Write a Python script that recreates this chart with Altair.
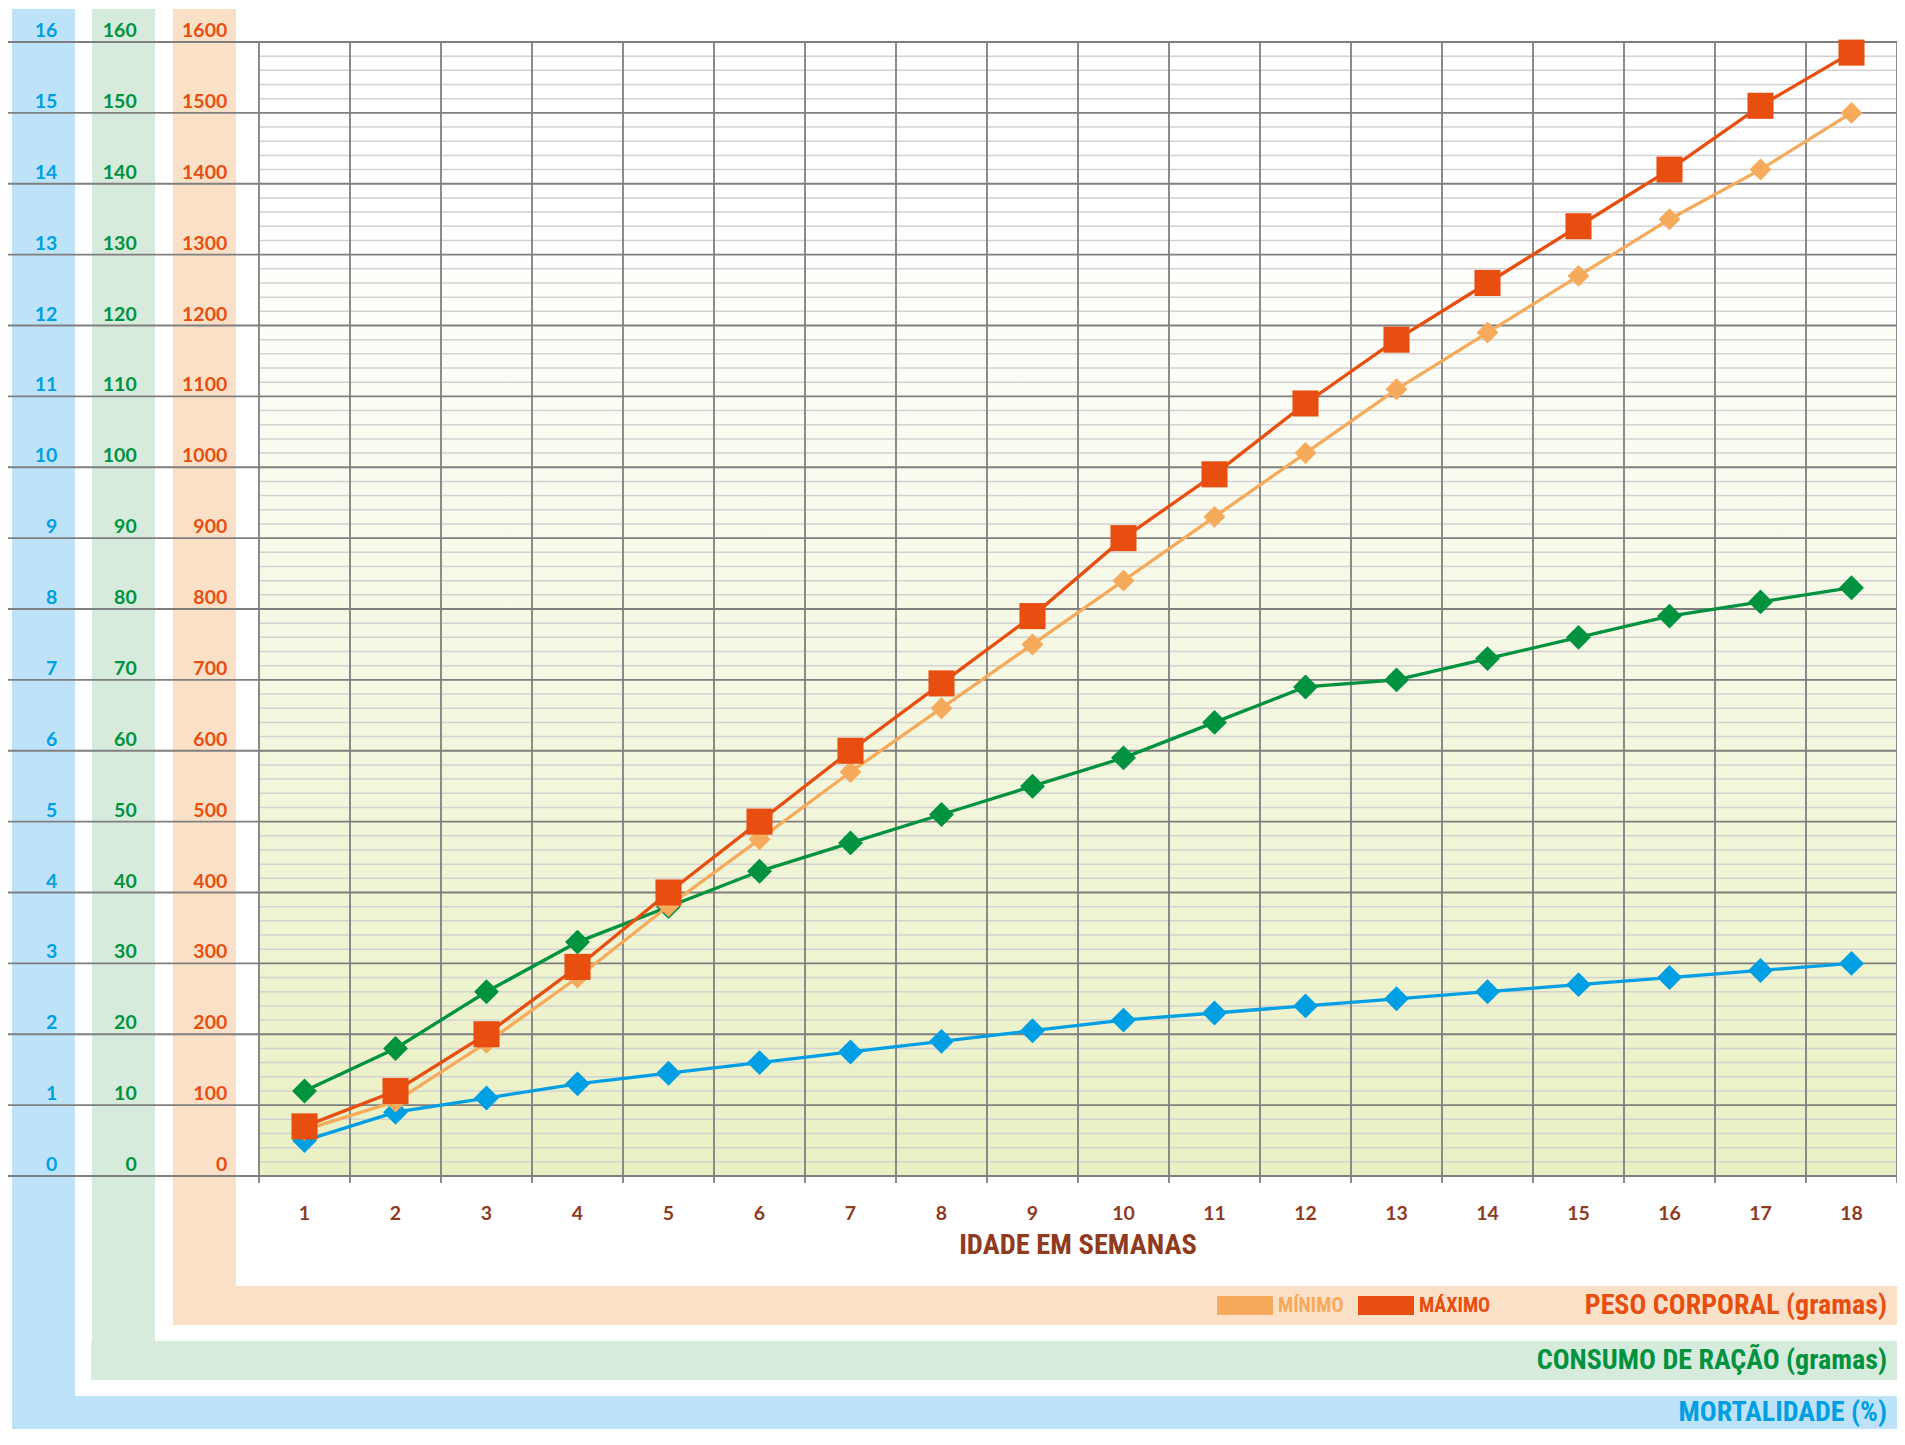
import altair as alt
import pandas as pd

# ---------------- data ----------------
weeks = list(range(1, 19))
mortalidade = [0.5, 0.9, 1.1, 1.3, 1.45, 1.6, 1.75, 1.9, 2.05, 2.2, 2.3, 2.4, 2.5, 2.6, 2.7, 2.8, 2.9, 3.0]
racao = [12, 18, 26, 33, 38, 43, 47, 51, 55, 59, 64, 69, 70, 73, 76, 79, 81, 83]
peso_min = [65, 105, 188, 280, 381, 475, 570, 660, 750, 840, 930, 1020, 1110, 1190, 1270, 1350, 1420, 1500]
peso_max = [70, 120, 200, 295, 400, 500, 600, 695, 790, 900, 990, 1090, 1180, 1260, 1340, 1420, 1510, 1585]

ticks_mort = list(range(0, 17))
ticks_racao = list(range(0, 161, 10))
ticks_peso = list(range(0, 1601, 100))
minor_peso = [v for v in range(0, 1601, 20) if v % 100 != 0]
x_bounds = [w - 0.5 for w in weeks] + [weeks[-1] + 0.5]

# ---------------- layout / style ----------------
PAD_L, PAD_T, PAD_R, PAD_B = 251, 34, 0, 253
W = 1638
H = 1134
OX, OY = 8 + PAD_L, 8 + PAD_T  # page position of the plot origin


def px(x):
    return x - OX


def py(y):
    return y - OY


BLUE = "#009FE3"
GREEN = "#00923F"
ORANGE = "#E84E0F"
LORANGE = "#F6AA5B"
BROWN = "#8E3B1E"
BAND_BLUE = "#BEE3F8"
BAND_GREEN = "#D7EBDC"
BAND_ORANGE = "#FBE0C8"
NUMF = "Lato"
CONDF = "'Roboto Condensed', 'Open Sans Condensed', 'DejaVu Sans Condensed', sans-serif"

xs = alt.Scale(domain=[0.5, 18.5], nice=False, zero=False)
ys = alt.Scale(domain=[0, 1600], nice=False, zero=True)

one = pd.DataFrame({"k": [0]})
RIGHT = 1897  # page x of right edge


def box(x, x2, y, y2, color):
    return alt.Chart(one).mark_rect(color=color).encode(
        x=alt.value(px(x)), x2=alt.value(px(x2)), y=alt.value(py(y)), y2=alt.value(py(y2)))


def label(txt, x, y, color, size, align="right", baseline="middle", font=CONDF):
    return alt.Chart(one).mark_text(
        text=txt, align=align, baseline=baseline, font=font, fontWeight="bold",
        fontSize=size, color=color).encode(x=alt.value(px(x)), y=alt.value(py(y)))


bg = alt.Chart(one).mark_rect(
    fill=alt.LinearGradient(
        gradient="linear",
        stops=[alt.GradientStop(offset=0, color="#ffffff"),
               alt.GradientStop(offset=0.15, color="#ffffff"),
               alt.GradientStop(offset=1, color="#EAF0C3")],
        x1=0, x2=0, y1=0, y2=1)
).encode(x=alt.value(0), x2=alt.value(W), y=alt.value(0), y2=alt.value(H))

bands = [
    box(12, 75, 9, 1429, BAND_BLUE),
    box(12, RIGHT, 1396, 1429, BAND_BLUE),
    box(92, 155, 9, 1380, BAND_GREEN),
    box(91, RIGHT, 1341, 1380, BAND_GREEN),
    box(173, 236, 9, 1325, BAND_ORANGE),
    box(173, RIGHT, 1286, 1325, BAND_ORANGE),
]

minor = alt.Chart(pd.DataFrame({"v": minor_peso})).mark_rule(
    color="#D2D2D2", strokeWidth=1.5).encode(
    y=alt.Y("v:Q", scale=ys, axis=None), x=alt.value(0), x2=alt.value(W))

major = alt.Chart(pd.DataFrame({"v": ticks_peso})).mark_rule(
    color="#7F7F7F", strokeWidth=1.8).encode(
    y=alt.Y("v:Q", scale=ys, axis=None), x=alt.value(px(5)), x2=alt.value(W))

vert = alt.Chart(pd.DataFrame({"b": x_bounds})).mark_rule(
    color="#7F7F7F", strokeWidth=1.8).encode(
    x=alt.X("b:Q", scale=xs, axis=None), y=alt.value(0), y2=alt.value(H + 7))


def ylabels(ticks, factor, x, color):
    df = pd.DataFrame({"t": ticks})
    return alt.Chart(df).transform_calculate(
        v=f"datum.t*{factor}"
    ).mark_text(align="right", baseline="alphabetic", dy=-5, font=NUMF,
                fontWeight="bold", fontSize=19.5, color=color).encode(
        y=alt.Y("v:Q", scale=ys, axis=None), x=alt.value(px(x)), text="t:Q")


lab_blue = ylabels(ticks_mort, 100, 57.3, BLUE)
lab_green = ylabels(ticks_racao, 10, 136.7, GREEN)
lab_orange = ylabels(ticks_peso, 1, 227.3, ORANGE)

xlab = alt.Chart(pd.DataFrame({"w": weeks})).mark_text(
    baseline="middle", font=NUMF, fontWeight="bold", fontSize=19.5, color=BROWN
).encode(x=alt.X("w:Q", scale=xs, axis=None), y=alt.value(py(1213.5)), text="w:Q")

series_df = pd.DataFrame({"w": weeks, "mort": mortalidade, "racao": racao,
                          "pmin": peso_min, "pmax": peso_max})


def series(expr, color, shape, size, sw=3.3):
    base = alt.Chart(series_df).transform_calculate(v=expr).encode(
        x=alt.X("w:Q", scale=xs, axis=None),
        y=alt.Y("v:Q", scale=ys, axis=None))
    ln = base.mark_line(color=color, strokeWidth=sw)
    pt = base.mark_point(shape=shape, filled=True, size=size, color=color, opacity=1)
    return [ln, pt]


s_mort = series("datum.mort*100", BLUE, "diamond", 620)
s_rac = series("datum.racao*10", GREEN, "diamond", 620)
s_min = series("datum.pmin", LORANGE, "diamond", 480)
s_max = series("datum.pmax", ORANGE, "square", 680)

texts = [
    label("IDADE EM SEMANAS", OX + W / 2, 1245, BROWN, 28.5, align="center"),
    box(1217, 1273, 1296, 1315, LORANGE),
    label("MÍNIMO", 1278, 1306, LORANGE, 20, align="left"),
    box(1358, 1414, 1296, 1315, ORANGE),
    label("MÁXIMO", 1419, 1306, ORANGE, 20, align="left"),
    label("PESO CORPORAL (gramas)", 1887, 1305.5, ORANGE, 28),
    label("CONSUMO DE RAÇÃO (gramas)", 1887, 1360.5, GREEN, 28),
    label("MORTALIDADE (%)", 1887, 1413, BLUE, 28),
]

chart = alt.layer(
    *bands, bg, minor, major, vert, lab_blue, lab_green, lab_orange, xlab,
    *texts, *s_mort, *s_rac, *s_min, *s_max
).properties(
    width=W, height=H,
    padding={"left": PAD_L, "top": PAD_T, "right": PAD_R, "bottom": PAD_B},
    autosize=alt.AutoSizeParams(type="none"),
).configure_view(stroke=None)

chart.save("out.html", embed_options={"renderer": "svg", "actions": False})
